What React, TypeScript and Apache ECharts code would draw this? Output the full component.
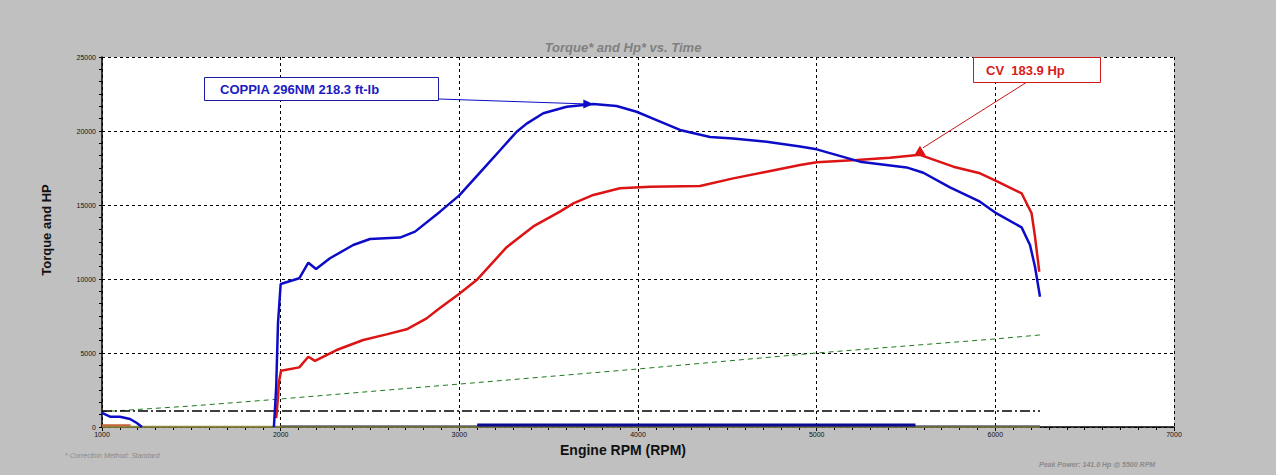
import { useEffect, useRef } from "react";
import * as echarts from "echarts";

const FONT = "'Liberation Sans', Arial, Helvetica, sans-serif";

// all pairs are [rpm, value]; a null value breaks the trace
const torque: [number, number | null][] = [
  [1000, 950], [1045, 700], [1100, 690], [1157, 540], [1195, 270], [1224, 0],
  [1600, null],
  [1962, 0], [1968, 1200], [1975, 2700], [1985, 7000], [2000, 9660],
  [2104, 10050], [2155, 11100], [2198, 10680], [2276, 11400], [2406, 12300],
  [2500, 12700], [2668, 12800], [2752, 13200], [2892, 14550], [3000, 15650],
  [3153, 17700], [3228, 18700], [3321, 19950], [3377, 20500], [3470, 21200],
  [3601, 21640], [3750, 21830], [3880, 21690], [3992, 21300], [4104, 20740],
  [4235, 20070], [4403, 19600], [4532, 19500], [4720, 19280], [4907, 18950],
  [5000, 18760], [5242, 17930], [5503, 17540], [5597, 17180], [5746, 16190],
  [5914, 15220], [6007, 14430], [6147, 13490], [6194, 12300], [6222, 10830],
  [6250, 8800],
];

const power: [number, number][] = [
  [1975, 600], [1985, 2000], [1990, 3000], [2002, 3800], [2104, 4030],
  [2155, 4750], [2192, 4470], [2313, 5200], [2462, 5880], [2593, 6260],
  [2705, 6600], [2817, 7340], [2882, 7950], [3000, 9000], [3097, 9930],
  [3265, 12150], [3414, 13550], [3563, 14550], [3638, 15110], [3750, 15680],
  [3899, 16130], [4067, 16240], [4347, 16280], [4533, 16800], [4720, 17250],
  [4907, 17700], [5000, 17890], [5224, 18040], [5410, 18200], [5578, 18390],
  [5765, 17590], [5914, 17140], [6007, 16620], [6147, 15790], [6203, 14440],
  [6222, 12860], [6246, 10490],
];

const rpmTrace: [number, number][] = [
  [1000, 1030], [1500, 1420], [1977, 1870], [2780, 2680], [3000, 2900],
  [4000, 3920], [5000, 5000], [6000, 5950], [6250, 6220],
];

const refLine: [number, number][] = [[1000, 1080], [6250, 1080]];
const afrTrace: [number, number][] = [[3100, 140], [5553, 140]];
const thinTrace: [number, number][] = [[2000, 70], [6250, 70]];
const oliveTrace: [number, number][] = [[1000, 15], [6250, 15]];
const brownTrace: [number, number][] = [[1000, 120], [1160, 120]];

const torquePeak: [number, number] = [3750, 21830];
const powerPeak: [number, number] = [5578, 18390];

const torqueNote = "COPPIA 296NM 218.3 ft-lb";
const powerNote = "CV  183.9 Hp";
const titleText = "Torque* and Hp* vs. Time";
const footLeft = "* Correction Method: Standard";
const footRight = "Peak Power: 141.0 Hp @ 5500 RPM";

const BLUE = "#0c0cc8";
const RED = "#dc1414";

function line(name: string, data: any[], color: string, width: number, type: any = "solid", z = 2) {
  return {
    name,
    type: "line",
    data,
    showSymbol: false,
    symbol: "none",
    silent: true,
    connectNulls: false,
    z,
    lineStyle: { color, width, type },
    emphasis: { disabled: true },
  };
}

export default function App() {
  const ref = useRef<HTMLDivElement>(null);

  useEffect(() => {
    if (!ref.current) return;
    const chart = echarts.init(ref.current, null, { renderer: "svg" });

    chart.setOption({
      animation: false,
      backgroundColor: "#c0c0c0",
      textStyle: { fontFamily: FONT },
      title: {
        text: titleText,
        left: 618,
        top: 36,
        textAlign: "center",
        textStyle: {
          fontFamily: FONT,
          fontSize: 13,
          fontStyle: "italic",
          fontWeight: "bold",
          color: "#808080",
        },
      },
      grid: {
        left: 102,
        top: 57,
        width: 1072,
        height: 370,
        show: true,
        backgroundColor: "#ffffff",
        borderWidth: 0,
      },
      xAxis: {
        type: "value",
        min: 1000,
        max: 7000,
        interval: 1000,
        name: "Engine RPM (RPM)",
        nameLocation: "middle",
        nameGap: 14,
        nameTextStyle: {
          fontFamily: FONT,
          fontSize: 14,
          fontWeight: "bold",
          color: "#111",
          padding: [0, 30, 0, 0],
        },
        axisLine: { onZero: false, lineStyle: { color: "#000", width: 1.5 } },
        axisTick: { length: 4, lineStyle: { color: "#000" } },
        minorTick: { show: true, splitNumber: 10, length: 3, lineStyle: { color: "#000" } },
        axisLabel: {
          fontFamily: FONT,
          fontSize: 7,
          color: "#111",
          margin: 4,
          formatter: (v: number) => String(v),
        },
        splitLine: { lineStyle: { color: "#000", width: 1, type: [3, 3] } },
      },
      yAxis: {
        type: "value",
        min: 0,
        max: 25000,
        interval: 5000,
        name: "Torque and HP",
        nameLocation: "middle",
        nameGap: 49,
        nameTextStyle: {
          fontFamily: FONT,
          fontSize: 13,
          fontWeight: "bold",
          color: "#111",
          padding: [0, 0, 0, 24],
        },
        axisLine: { show: true, lineStyle: { color: "#000", width: 1.5 } },
        axisTick: { show: true, length: 3, lineStyle: { color: "#000" } },
        minorTick: { show: true, splitNumber: 6, length: 3, lineStyle: { color: "#000" } },
        axisLabel: {
          fontFamily: FONT,
          fontSize: 7,
          color: "#111",
          margin: 6,
          formatter: (v: number) => String(v),
        },
        splitLine: { lineStyle: { color: "#000", width: 1, type: [3, 3] } },
      },
      series: [
        line("rpm", rpmTrace, "#1e7a1e", 1, [5, 4]),
        line("ref", refLine, "#000", 1.3, [10, 3, 2, 3]),
        line("olive", oliveTrace, "#8c8c3c", 2),
        line("thin", thinTrace, "#3c3c64", 1),
        line("brown", brownTrace, "#c8643c", 2),
        line("afr", afrTrace, "#0a0a90", 3),
        line("HP", power, RED, 2.5, "solid", 4),
        line("Torque", torque, BLUE, 2.5, "solid", 5),
      ],
    });

    const tp = chart.convertToPixel({ gridIndex: 0 }, torquePeak) as number[];
    const pp = chart.convertToPixel({ gridIndex: 0 }, powerPeak) as number[];

    chart.setOption({
      graphic: [
        // torque note
        {
          type: "line",
          z: 10,
          shape: { x1: 439, y1: 99, x2: tp[0] - 8, y2: tp[1] },
          style: { stroke: BLUE, lineWidth: 1 },
        },
        {
          type: "polygon",
          z: 10,
          shape: { points: [[tp[0], tp[1]], [tp[0] - 10, tp[1] - 4.5], [tp[0] - 10, tp[1] + 4.5]] },
          style: { fill: BLUE },
        },
        {
          type: "rect",
          z: 10,
          shape: { x: 204.5, y: 77.5, width: 234, height: 23 },
          style: { fill: "#fff", stroke: "#1a1aa0", lineWidth: 1 },
        },
        {
          type: "text",
          z: 11,
          x: 220,
          y: 89,
          style: {
            text: torqueNote,
            fill: "#1c1cc0",
            font: `bold 13px ${FONT}`,
            align: "left",
            verticalAlign: "middle",
          },
        },
        // power note
        {
          type: "line",
          z: 10,
          shape: { x1: 1027, y1: 82, x2: pp[0] + 3, y2: pp[1] - 7 },
          style: { stroke: "#c81414", lineWidth: 1 },
        },
        {
          type: "polygon",
          z: 10,
          shape: { points: [[pp[0], pp[1] - 9], [pp[0] - 6, pp[1] + 1], [pp[0] + 6, pp[1] + 1]] },
          style: { fill: RED },
        },
        {
          type: "rect",
          z: 10,
          shape: { x: 973.5, y: 57.5, width: 127, height: 25 },
          style: { fill: "#fff", stroke: "#d01818", lineWidth: 1 },
        },
        {
          type: "text",
          z: 11,
          x: 986,
          y: 70,
          style: {
            text: powerNote,
            fill: "#d81c1c",
            font: `bold 13px ${FONT}`,
            align: "left",
            verticalAlign: "middle",
          },
        },
        // footnotes
        {
          type: "text",
          x: 65,
          y: 455,
          style: {
            text: footLeft,
            fill: "#8a8a8a",
            font: `italic 7px ${FONT}`,
            verticalAlign: "middle",
          },
        },
        {
          type: "text",
          x: 1039,
          y: 464,
          style: {
            text: footRight,
            fill: "#8a8a8a",
            font: `italic bold 7px ${FONT}`,
            verticalAlign: "middle",
          },
        },
      ],
    });

    return () => chart.dispose();
  }, []);

  return (
    <div
      ref={ref}
      style={{ position: "absolute", left: 0, top: 0, width: 1276, height: 475 }}
    />
  );
}
